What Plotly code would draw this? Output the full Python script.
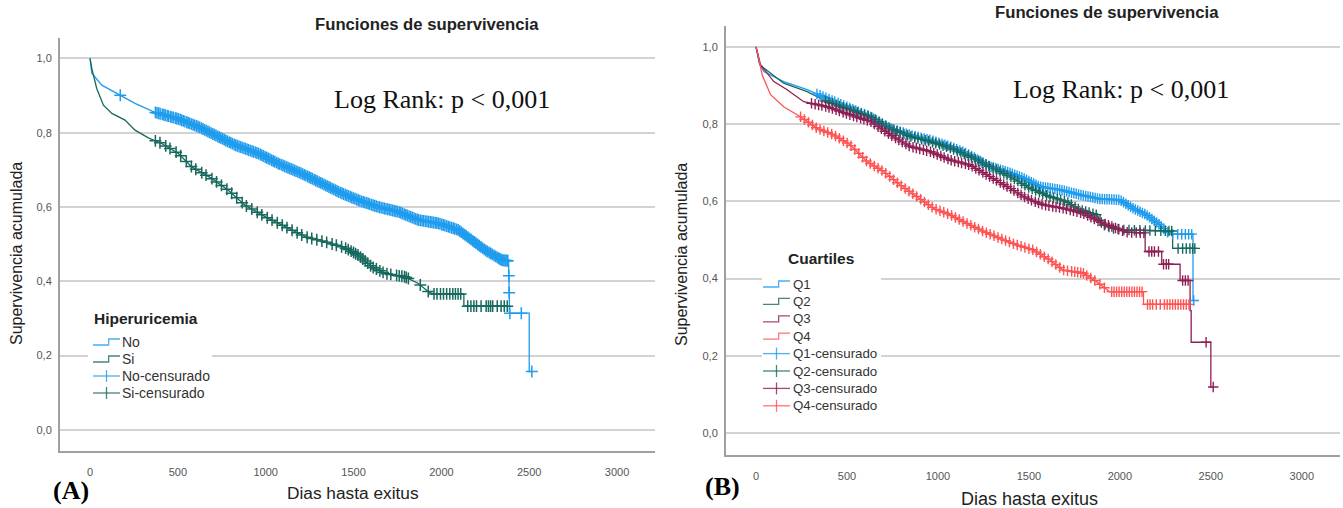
import numpy as np
import plotly.graph_objects as go

W, H = 1343, 508

# ---------------- data ----------------
X_TICKS = [0, 500, 1000, 1500, 2000, 2500, 3000]
X_LABELS = ["0", "500", "1000", "1500", "2000", "2500", "3000"]
Y_TICKS = [0.0, 0.2, 0.4, 0.6, 0.8, 1.0]
Y_LABELS = ["0,0", "0,2", "0,4", "0,6", "0,8", "1,0"]

# Panel A: Hiperuricemia (time in days, cumulative survival)
no_t = [0, 10, 67, 171, 256, 370, 503, 617, 731, 825, 958, 1072, 1205, 1300, 1414, 1528, 1641, 1755,
        1869, 1983, 2097, 2173, 2249, 2344, 2383, 2383, 2385, 2385, 2387, 2387, 2500, 2500, 2515]
no_s = [1.0, 0.960, 0.928, 0.901, 0.879, 0.855, 0.837, 0.816, 0.789, 0.767, 0.744, 0.717, 0.690,
        0.668, 0.641, 0.618, 0.600, 0.587, 0.565, 0.556, 0.538, 0.511, 0.484, 0.457, 0.455, 0.415,
        0.415, 0.369, 0.369, 0.314, 0.314, 0.157, 0.157]
no_cens = [172, 372, 381, 390, 399, 411, 420, 428, 439, 447, 458, 466, 475, 486, 494, 503, 513, 522,
           531, 540, 551, 559, 568, 578, 587, 596, 606, 615, 624, 634, 643, 652, 661, 671, 680, 689,
           699, 708, 717, 727, 736, 745, 755, 764, 773, 782, 792, 801, 810, 820, 829, 838, 848, 857,
           866, 876, 885, 894, 903, 913, 922, 931, 941, 950, 959, 969, 978, 987, 997, 1006, 1015,
           1024, 1034, 1043, 1052, 1062, 1071, 1080, 1090, 1099, 1108, 1118, 1127, 1136, 1145, 1155,
           1164, 1173, 1183, 1192, 1201, 1211, 1220, 1229, 1239, 1248, 1257, 1266, 1276, 1285, 1294,
           1304, 1313, 1322, 1332, 1341, 1350, 1360, 1369, 1378, 1387, 1397, 1406, 1415, 1425, 1434,
           1443, 1453, 1462, 1471, 1481, 1490, 1499, 1508, 1518, 1527, 1536, 1546, 1555, 1564, 1574,
           1583, 1592, 1602, 1611, 1620, 1629, 1639, 1648, 1657, 1667, 1676, 1685, 1695, 1704, 1713,
           1723, 1732, 1741, 1750, 1760, 1769, 1778, 1788, 1797, 1806, 1816, 1825, 1834, 1844, 1853,
           1862, 1871, 1881, 1890, 1899, 1909, 1918, 1927, 1937, 1946, 1955, 1965, 1974, 1983, 1992,
           2002, 2011, 2020, 2030, 2039, 2048, 2058, 2067, 2076, 2086, 2095, 2104, 2113, 2123, 2132,
           2141, 2151, 2160, 2169, 2179, 2188, 2197, 2207, 2216, 2225, 2234, 2244, 2253, 2262, 2272,
           2281, 2290, 2300, 2309, 2318, 2326, 2333, 2339, 2344, 2350, 2356, 2362, 2368, 2374, 2378,
           2384, 2386, 2390, 2455, 2515]

si_t = [0, 10, 38, 76, 124, 199, 256, 332, 408, 503, 579, 692, 787, 882, 996, 1110, 1224, 1338, 1452,
        1528, 1604, 1680, 1793, 1869, 1926, 1950, 2128, 2128, 2375]
si_s = [1.0, 0.973, 0.919, 0.874, 0.852, 0.834, 0.807, 0.786, 0.771, 0.744, 0.708, 0.677, 0.645,
        0.605, 0.574, 0.547, 0.520, 0.506, 0.490, 0.470, 0.439, 0.421, 0.412, 0.394, 0.372, 0.366,
        0.366, 0.333, 0.333]
si_cens = [372, 398, 431, 455, 490, 516, 548, 577, 602, 636, 660, 694, 720, 748, 779, 806, 835, 866,
           890, 921, 952, 978, 1009, 1036, 1066, 1094, 1121, 1150, 1179, 1205, 1236, 1262, 1291, 1320,
           1347, 1378, 1402, 1432, 1455, 1470, 1486, 1500, 1512, 1525, 1540, 1553, 1566, 1580, 1597,
           1612, 1630, 1650, 1668, 1690, 1712, 1745, 1760, 1775, 1790, 1800, 1812, 1880, 1925, 1958,
           1975, 1995, 2012, 2030, 2048, 2065, 2080, 2095, 2110, 2150, 2168, 2185, 2200, 2226, 2255,
           2268, 2280, 2292, 2318, 2340, 2358, 2375]

# Panel B: Cuartiles
q1_t = [0, 20, 43, 152, 281, 390, 518, 628, 738, 847, 957, 1067, 1176, 1286, 1378, 1469, 1560, 1670,
        1780, 1889, 1999, 2072, 2145, 2219, 2273, 2402, 2402, 2406]
q1_s = [1.0, 0.955, 0.936, 0.910, 0.889, 0.867, 0.841, 0.819, 0.789, 0.772, 0.759, 0.742, 0.720,
        0.690, 0.677, 0.660, 0.638, 0.630, 0.617, 0.606, 0.604, 0.582, 0.565, 0.539, 0.515, 0.515,
        0.343, 0.343]
q1_cens = [335, 352, 368, 384, 401, 418, 433, 451, 466, 482, 499, 515, 532, 548, 563, 580, 597, 613,
           630, 646, 662, 679, 695, 711, 728, 744, 760, 777, 793, 809, 826, 842, 858, 875, 891, 907,
           924, 940, 956, 973, 989, 1005, 1022, 1038, 1054, 1071, 1087, 1103, 1120, 1136, 1152, 1169,
           1185, 1201, 1218, 1234, 1250, 1265, 1279, 1292, 1305, 1318, 1331, 1344, 1357, 1370, 1383,
           1396, 1409, 1422, 1435, 1448, 1461, 1474, 1487, 1500, 1513, 1526, 1539, 1552, 1565, 1578,
           1591, 1604, 1617, 1630, 1643, 1656, 1669, 1682, 1695, 1708, 1721, 1734, 1747, 1760, 1773,
           1786, 1799, 1812, 1825, 1838, 1851, 1864, 1877, 1890, 1903, 1916, 1929, 1942, 1955, 1968,
           1981, 1994, 2007, 2020, 2033, 2046, 2059, 2072, 2085, 2098, 2111, 2124, 2137, 2150, 2163,
           2176, 2189, 2202, 2215, 2228, 2241, 2262, 2290, 2318, 2340, 2360, 2378, 2395, 2406]

q2_t = [0, 20, 43, 152, 281, 390, 518, 628, 738, 847, 957, 1067, 1176, 1286, 1396, 1506, 1615, 1707,
        1780, 1871, 1908, 1962, 2017, 2290, 2290, 2412]
q2_s = [1.0, 0.955, 0.945, 0.906, 0.884, 0.858, 0.837, 0.819, 0.789, 0.768, 0.755, 0.738, 0.716,
        0.690, 0.664, 0.634, 0.612, 0.599, 0.578, 0.565, 0.539, 0.530, 0.526, 0.523, 0.478, 0.478]
q2_cens = [382, 401, 420, 441, 459, 480, 498, 519, 538, 557, 578, 596, 617, 636, 655, 676, 694, 715,
           734, 753, 774, 792, 813, 832, 851, 872, 890, 911, 930, 949, 970, 988, 1009, 1028, 1047,
           1068, 1086, 1107, 1126, 1145, 1166, 1184, 1205, 1224, 1243, 1264, 1282, 1303, 1322, 1341,
           1362, 1380, 1401, 1420, 1439, 1460, 1478, 1499, 1518, 1537, 1558, 1576, 1597, 1616, 1635,
           1656, 1674, 1695, 1714, 1733, 1754, 1772, 1793, 1812, 1831, 1852, 1870, 1891, 1915, 1940,
           1965, 1990, 2022, 2050, 2080, 2110, 2140, 2165, 2195, 2225, 2250, 2270, 2285, 2320, 2345,
           2365, 2385, 2400, 2412]

q3_t = [0, 25, 98, 171, 262, 390, 518, 628, 738, 847, 957, 1067, 1176, 1286, 1396, 1487, 1579, 1688,
        1798, 1889, 1981, 2036, 2139, 2139, 2230, 2230, 2331, 2331, 2386, 2386, 2392, 2392, 2500,
        2500, 2513]
q3_s = [1.0, 0.953, 0.910, 0.889, 0.858, 0.845, 0.824, 0.807, 0.772, 0.742, 0.729, 0.707, 0.694,
        0.664, 0.634, 0.608, 0.591, 0.582, 0.569, 0.547, 0.530, 0.520, 0.518, 0.470, 0.470, 0.437,
        0.437, 0.395, 0.395, 0.317, 0.317, 0.235, 0.235, 0.119, 0.119]
q3_cens = [305, 325, 344, 362, 383, 401, 420, 440, 458, 479, 497, 516, 536, 554, 575, 593, 612, 632,
           650, 671, 689, 708, 728, 746, 767, 785, 804, 824, 842, 863, 881, 900, 920, 938, 959, 977,
           996, 1016, 1034, 1055, 1073, 1092, 1112, 1130, 1151, 1169, 1188, 1208, 1226, 1247, 1265,
           1284, 1304, 1322, 1343, 1361, 1380, 1400, 1418, 1439, 1457, 1476, 1496, 1514, 1535, 1553,
           1572, 1592, 1610, 1631, 1649, 1668, 1688, 1706, 1727, 1745, 1764, 1784, 1802, 1823, 1841,
           1860, 1880, 1898, 1919, 1937, 1956, 1976, 1994, 2015, 2040, 2065, 2090, 2112, 2132, 2160,
           2175, 2190, 2212, 2240, 2255, 2268, 2345, 2360, 2375, 2474, 2513]

q4_t = [0, 7, 34, 80, 152, 244, 336, 427, 518, 610, 701, 793, 884, 975, 1067, 1158, 1250, 1341, 1433,
        1524, 1615, 1688, 1798, 1871, 1944, 2130, 2130, 2380]
q4_s = [1.0, 0.988, 0.927, 0.876, 0.845, 0.819, 0.789, 0.772, 0.746, 0.703, 0.677, 0.642, 0.612,
        0.582, 0.565, 0.543, 0.522, 0.504, 0.487, 0.474, 0.448, 0.422, 0.414, 0.392, 0.366, 0.366,
        0.333, 0.333]
q4_cens = [245, 266, 288, 310, 331, 352, 373, 394, 416, 437, 458, 480, 501, 522, 543, 565, 586, 607,
           628, 650, 671, 692, 713, 735, 756, 777, 798, 820, 841, 862, 883, 905, 926, 947, 968, 990,
           1011, 1032, 1053, 1075, 1096, 1117, 1138, 1160, 1181, 1202, 1223, 1245, 1266, 1287, 1308,
           1330, 1351, 1372, 1393, 1415, 1436, 1457, 1478, 1500, 1521, 1542, 1563, 1585, 1606, 1627,
           1648, 1670, 1691, 1712, 1735, 1752, 1768, 1785, 1800, 1818, 1840, 1862, 1890, 1915, 1955,
           1968, 1982, 1996, 2010, 2024, 2038, 2052, 2066, 2080, 2094, 2108, 2122, 2152, 2166, 2180,
           2200, 2222, 2245, 2260, 2275, 2290, 2305, 2320, 2335, 2350, 2365, 2380]

LEGEND_A_TITLE = "Hiperuricemia"
LEGEND_A = ["No", "Si", "No-censurado", "Si-censurado"]
LEGEND_B_TITLE = "Cuartiles"
LEGEND_B = ["Q1", "Q2", "Q3", "Q4", "Q1-censurado", "Q2-censurado", "Q3-censurado", "Q4-censurado"]

# ---------------- styling ----------------
C_BLUE = "#1f9cee"
C_TEAL = "#18695d"
C_MAROON = "#8e1f55"
C_RED = "#ff5252"

SANS = "Liberation Sans, Arial, sans-serif"
SERIF = "Liberation Serif, Times New Roman, serif"


def px(x):
    return x / W


def py(y):
    return 1 - y / H


def on_curve(times, surv, cens):
    return np.interp(np.asarray(cens, float), np.asarray(times, float), np.asarray(surv, float))


fig = go.Figure()

panels = [
    ("x", "y", [(no_t, no_s, no_cens, C_BLUE), (si_t, si_s, si_cens, C_TEAL)], 8.5, 1.5),
    ("x2", "y2", [(q1_t, q1_s, q1_cens, C_BLUE), (q2_t, q2_s, q2_cens, C_TEAL),
                  (q3_t, q3_s, q3_cens, C_MAROON), (q4_t, q4_s, q4_cens, C_RED)], 7.5, 1.4),
]
for xa, ya, groups, msize, mlw in panels:
    for t, s, c, col in groups:
        fig.add_trace(go.Scatter(x=t, y=s, mode="lines", showlegend=False,
                                 line=dict(color=col, width=1.3), xaxis=xa, yaxis=ya, hoverinfo="skip"))
    for t, s, c, col in groups:
        fig.add_trace(go.Scatter(x=c, y=on_curve(t, s, c), mode="markers", showlegend=False,
                                 marker=dict(symbol="cross-thin", size=msize, line=dict(color=col, width=mlw)),
                                 xaxis=xa, yaxis=ya, hoverinfo="skip"))

axis_common = dict(showline=True, linecolor="#a0a0a0", linewidth=2, ticks="", zeroline=False,
                   tickfont=dict(family=SANS, size=11, color="#555555"), fixedrange=True)

fig.update_layout(
    width=W, height=H, margin=dict(l=0, r=0, t=0, b=0),
    paper_bgcolor="white", plot_bgcolor="white", showlegend=False,
    xaxis=dict(domain=[px(60), px(655)], range=[-171, 3216], tickvals=X_TICKS, ticktext=X_LABELS,
               showgrid=False, anchor="y", ticklabelstandoff=10, **axis_common),
    yaxis=dict(domain=[py(451), py(38)], range=[-0.057, 1.055], tickvals=Y_TICKS, ticktext=Y_LABELS,
               showgrid=True, gridcolor="#d2d2d2", gridwidth=1.5, anchor="x", ticklabelstandoff=4,
               **axis_common),
    xaxis2=dict(domain=[px(726), px(1340)], range=[-165, 3210], tickvals=X_TICKS, ticktext=X_LABELS,
                showgrid=False, anchor="y2", ticklabelstandoff=10, **axis_common),
    yaxis2=dict(domain=[py(455), py(26)], range=[-0.057, 1.054], tickvals=Y_TICKS, ticktext=Y_LABELS,
                showgrid=True, gridcolor="#d2d2d2", gridwidth=1.5, anchor="x2", ticklabelstandoff=4,
                **axis_common),
)

# ---------------- legends (SPSS style: step icon for curves, cross for censored) ----------------
def draw_legend(box, title, title_pos, title_anchor, labels, colors, icon_x0, icon_x1, text_x, y0, dy, fsize):
    bx0, by0, bx1, by1 = box
    fig.add_shape(type="rect", xref="paper", yref="paper", x0=px(bx0), x1=px(bx1), y0=py(by1), y1=py(by0),
                  fillcolor="white", line=dict(width=0), layer="above")
    fig.add_annotation(text="<b>" + title + "</b>", x=px(title_pos[0]), y=py(title_pos[1]), xref="paper",
                       yref="paper", showarrow=False, xanchor=title_anchor, yanchor="middle",
                       font=dict(family=SANS, size=15.5, color="#222222"))
    n = len(colors)
    for i, lab in enumerate(labels):
        col = colors[i % n]
        yc = y0 + i * dy
        xm = icon_x0 + (icon_x1 - icon_x0) * 0.58
        if i < n:
            path = "M {:.5f},{:.5f} H {:.5f} V {:.5f} H {:.5f}".format(
                px(icon_x0), py(yc + 3), px(xm), py(yc - 3), px(icon_x1))
            fig.add_shape(type="path", xref="paper", yref="paper", path=path,
                          line=dict(color=col, width=1.3), opacity=0.8, layer="above")
        else:
            xc = (icon_x0 + icon_x1) / 2
            fig.add_shape(type="line", xref="paper", yref="paper", x0=px(icon_x0), x1=px(icon_x1),
                          y0=py(yc), y1=py(yc), line=dict(color=col, width=1.3), opacity=0.8, layer="above")
            fig.add_shape(type="line", xref="paper", yref="paper", x0=px(xc), x1=px(xc),
                          y0=py(yc - 6), y1=py(yc + 6), line=dict(color=col, width=1.3), opacity=0.8,
                          layer="above")
        fig.add_annotation(text=lab, x=px(text_x), y=py(yc), xref="paper", yref="paper", showarrow=False,
                           xanchor="left", yanchor="middle", font=dict(family=SANS, size=fsize, color="#333333"))


draw_legend((88, 306, 212, 402), LEGEND_A_TITLE, (92, 318), "left", LEGEND_A, [C_BLUE, C_TEAL],
            93, 120, 120, 342, 17, 14)
draw_legend((762, 247, 881, 414), LEGEND_B_TITLE, (821, 258), "center", LEGEND_B,
            [C_BLUE, C_TEAL, C_MAROON, C_RED], 763, 790, 791, 284, 17.4, 13.3)

ann = [
    ("<b>Funciones de supervivencia</b>", 427, 24, 16.7, SANS, "#222222", 0),
    ("<b>Funciones de supervivencia</b>", 1107, 13, 16.7, SANS, "#222222", 0),
    ("Log Rank: p &lt; 0,001", 442, 100, 26, SERIF, "#111111", 0),
    ("Log Rank: p &lt; 0,001", 1121, 89, 26, SERIF, "#111111", 0),
    ("Dias hasta exitus", 353, 493, 17.3, SANS, "#222222", 0),
    ("Dias hasta exitus", 1029, 499, 18, SANS, "#222222", 0),
    ("Supervivencia acumulada", 16, 254, 16, SANS, "#222222", -90),
    ("Supervivencia acumulada", 681, 255, 16, SANS, "#222222", -90),
    ("<b>(A)</b>", 71, 490, 26, SERIF, "#000000", 0),
    ("<b>(B)</b>", 722, 486, 26, SERIF, "#000000", 0),
]
for text, x, y, size, fam, col, ang in ann:
    fig.add_annotation(text=text, x=px(x), y=py(y), xref="paper", yref="paper", showarrow=False,
                       xanchor="center", yanchor="middle", textangle=ang,
                       font=dict(family=fam, size=size, color=col))

fig.write_html("out.html")
